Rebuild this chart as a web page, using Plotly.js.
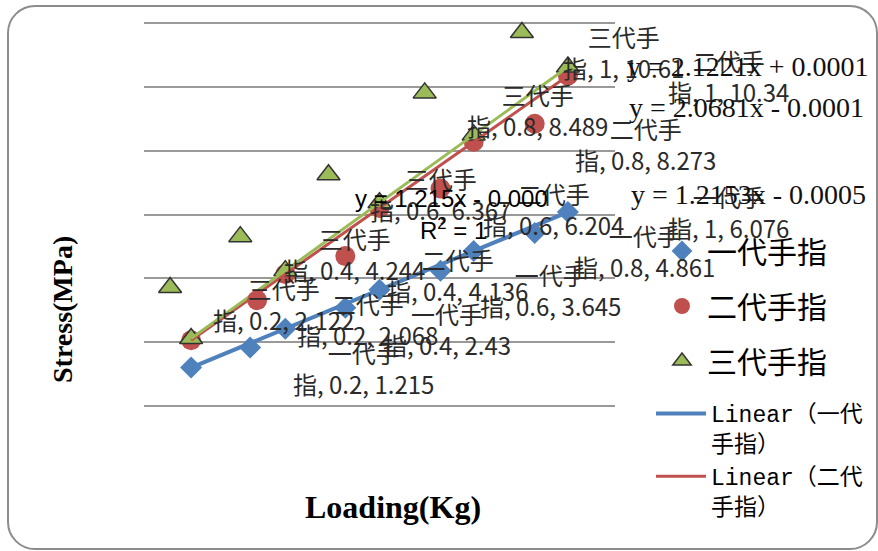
<!DOCTYPE html>
<html><head><meta charset="utf-8">
<script src="https://cdn.plot.ly/plotly-3.0.1.min.js"></script>
<style>
html,body{margin:0;padding:0;background:#fff;}
#frame{position:absolute;left:7px;top:5px;width:871px;height:545px;border:2px solid #8c8c8c;border-radius:28px;box-sizing:border-box;}
#chart{position:absolute;left:0;top:0;width:878px;height:551px;}
</style></head><body>
<div id="frame"></div><div id="chart"></div>
<script>
// ---- data ----
const loads = [0.2, 0.4, 0.6, 0.8, 1];
const gen1 = [1.215, 2.43, 3.645, 4.861, 6.076];
const gen2 = [2.068, 4.136, 6.204, 8.273, 10.34];
const gen3 = [2.122, 4.244, 6.367, 8.489, 10.61];
const seriesNames = ['一代手指', '二代手指', '三代手指'];
const trendNames = ['Linear（一代<br>手指）', 'Linear（二代<br>手指）', 'Linear（三代<br>手指）'];
const eqTexts = ['y = 1.215x - 0.000', 'R<sup>2</sup> = 1', 'y = 2.1221x + 0.0001', 'y = 2.0681x - 0.0001', 'y = 1.2153x - 0.0005'];
const xTitle = 'Loading(Kg)';
const yTitle = 'Stress(MPa)';

// ---- label placement (pixels, right / down) ----
const labelShift = [
  [[172,0],[162,0],[171,0],[171,0],[161,0]],
  [[176,-21],[172,1],[174,1.5],[172,2.5],[161,0]],
  [[92,-34.5],[69,-17],[61,-8.5],[64,-24.5],[56,-15]]
];
const keyShift = [
  [[59,-20],[60,-21],[61,-19],[61,-18],[59,-18.5]],
  [[66,-40],[60,-18],[61,-19.5],[61,-18],[60,-18]],
  [[-21,-51],[-45,-34],[-51,-28],[-49,-42],[-46,-34.5]]
];

const W = 878, H = 551;
const M = {l:144, r:263, t:21, b:143, autoexpand:false};
const xr = [0.1, 1.1], yr = [-0.05, 12.05];
const pw = W - M.l - M.r, ph = H - M.t - M.b;
const pxX = pw / (xr[1]-xr[0]), pxY = ph / (yr[1]-yr[0]);
const xp = px => (px - M.l) / pw;
const yp = py => (H - M.b - py) / ph;

const colors = ['#4F81BD', '#C0504D', '#9BBB59'];
const series = [gen1, gen2, gen3];
const markerStyles = [
  {symbol:'diamond', size:17, color:colors[0]},
  {symbol:'circle', size:20, color:colors[1]},
  {symbol:'triangle-up', size:20, color:colors[2], line:{color:'#333', width:1.5}}
];

function fit(xs, ys){
  const n = xs.length;
  const mx = xs.reduce((a,b)=>a+b,0)/n, my = ys.reduce((a,b)=>a+b,0)/n;
  let sxy=0, sxx=0;
  for(let i=0;i<n;i++){ sxy += (xs[i]-mx)*(ys[i]-my); sxx += (xs[i]-mx)**2; }
  const m = sxy/sxx; return [m, my - m*mx];
}

const traces = [];
series.forEach((ys, s) => {
  traces.push({x: loads, y: ys, type:'scatter', mode:'markers', name: seriesNames[s],
    marker: markerStyles[s], legend:'legend', legendgroup:'g'+s, cliponaxis:false});
});
const lineWidths = [4, 3, 3];
series.forEach((ys, s) => {
  const [m, b] = fit(loads, ys);
  const x0 = Math.min(...loads), x1 = Math.max(...loads);
  traces.push({x:[x0, x1], y:[m*x0+b, m*x1+b], type:'scatter', mode:'lines', name: trendNames[s],
    line:{color: colors[s], width: lineWidths[s]}, legend:'legend2', showlegend: s < 2, cliponaxis:false});
});
// legend keys shown inside the data labels
series.forEach((ys, s) => {
  traces.push({x: loads.map((v,i)=> v + keyShift[s][i][0]/pxX),
               y: ys.map((v,i)=> v - keyShift[s][i][1]/pxY),
               type:'scatter', mode:'markers', showlegend:false, hoverinfo:'skip',
               marker: markerStyles[s], cliponaxis:false});
});

const labFont = {family:'Noto Sans CJK SC, sans-serif', size:24, color:'#2a2a2a'};
const annotations = [];
series.forEach((ys, s) => {
  ys.forEach((v, i) => {
    const nm = seriesNames[s];
    annotations.push({x: loads[i], y: v, xref:'x', yref:'y', showarrow:false,
      text: nm.slice(0,3) + '<br>' + nm.slice(3) + ', ' + loads[i] + ', ' + v,
      xanchor:'center', yanchor:'middle', align:'center',
      xshift: labelShift[s][i][0], yshift: -labelShift[s][i][1], font: labFont});
  });
});
const sansEq = {family:'Liberation Sans, Arial, sans-serif', size:24, color:'#000'};
const serifEq = {family:'Liberation Serif, Times New Roman, serif', size:28, color:'#111'};
annotations.push({xref:'paper', yref:'paper', x:xp(353), y:yp(198), xanchor:'left', yanchor:'middle', showarrow:false, text:eqTexts[0], font:sansEq});
annotations.push({xref:'paper', yref:'paper', x:xp(418), y:yp(229), xanchor:'left', yanchor:'middle', showarrow:false, text:eqTexts[1], font:sansEq});
annotations.push({xref:'paper', yref:'paper', x:xp(871), y:yp(67), xanchor:'right', yanchor:'middle', showarrow:false, text:eqTexts[2], font:serifEq});
annotations.push({xref:'paper', yref:'paper', x:xp(866), y:yp(108), xanchor:'right', yanchor:'middle', showarrow:false, text:eqTexts[3], font:serifEq});
annotations.push({xref:'paper', yref:'paper', x:xp(868), y:yp(194), xanchor:'right', yanchor:'middle', showarrow:false, text:eqTexts[4], font:serifEq});
annotations.push({xref:'paper', yref:'paper', x:xp(393), y:yp(507), xanchor:'center', yanchor:'middle', showarrow:false,
  text:'<b>'+xTitle+'</b>', font:{family:'Liberation Serif, Times New Roman, serif', size:32, color:'#000'}});
annotations.push({xref:'paper', yref:'paper', x:xp(62), y:yp(310), xanchor:'center', yanchor:'middle', showarrow:false, textangle:-90,
  text:'<b>'+yTitle+'</b>', font:{family:'Liberation Serif, Times New Roman, serif', size:28, color:'#000'}});

const legFont = {family:'Liberation Mono, Noto Sans CJK SC, monospace', size:30, color:'#000'};
const layout = {
  width: W, height: H, margin: M,
  paper_bgcolor:'rgba(0,0,0,0)', plot_bgcolor:'rgba(0,0,0,0)',
  xaxis:{range:xr, showgrid:false, zeroline:false, showline:false, showticklabels:false, ticks:''},
  yaxis:{range:yr, dtick:2, tick0:0, showgrid:true, gridcolor:'#999', gridwidth:2, zeroline:false, showline:false, showticklabels:false, ticks:''},
  showlegend:true,
  legend:{x:xp(657), y:yp(225), xanchor:'left', yanchor:'top', bgcolor:'rgba(0,0,0,0)', font:legFont, tracegroupgap:13, itemwidth:40},
  legend2:{x:xp(651), y:yp(392), xanchor:'left', yanchor:'top', bgcolor:'rgba(0,0,0,0)', font:{family:'Liberation Mono, Noto Sans CJK SC, monospace', size:23, color:'#000'}, valign:'top', tracegroupgap:0, itemwidth:50},
  annotations: annotations
};
Plotly.newPlot('chart', traces, layout, {staticPlot:true, displayModeBar:false});
</script></body></html>
